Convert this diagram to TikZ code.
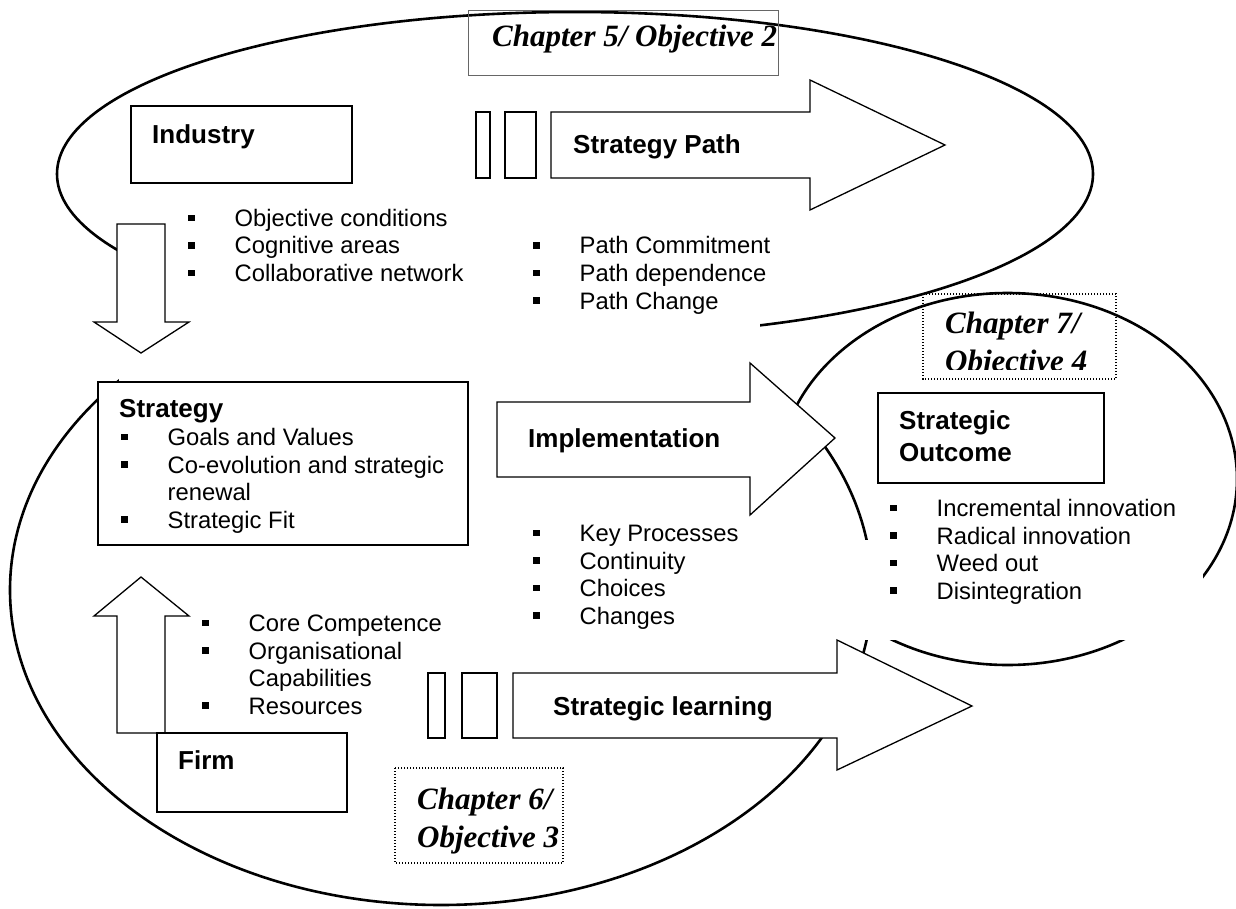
\documentclass[tikz,border=0pt]{standalone}
\usepackage{fontspec}
\setmainfont{Liberation Sans}
\newfontfamily\chapfont{Liberation Serif}
\newcommand\bsq{\makebox[46.5pt][l]{\rule[5.25pt]{6.5pt}{6.5pt}}}
\tikzset{line cap=round,line join=round}
\tikzset{
    oval/.style={line width=2.6pt},
    mask/.style={fill=white},
    box/.style={draw,fill=white,line width=1.3pt},
    blockarrow/.style={draw,fill=white,line width=1.3pt,line join=miter},
    chapline/.style={draw=black!60,line width=0.9pt},
    chapdots/.style={draw,line width=1.1pt,line cap=butt,dash pattern=on 1.1pt off 1.9pt},
    head/.style={anchor=base west,inner sep=0pt,font=\fontsize{26}{30}\selectfont\bfseries},
    item/.style={anchor=base west,inner sep=0pt,font=\fontsize{23.8}{27.5}\selectfont},
    chap/.style={anchor=base west,inner sep=0pt,font=\chapfont\fontsize{31}{36}\selectfont\bfseries\itshape},
}

\begin{document}
\begin{tikzpicture}[x=1pt,y=-1pt]
    \useasboundingbox (0,0) rectangle (1236,909);
    % the three ovals
    \draw[oval] (575,174) ellipse [x radius=518pt, y radius=162pt];
    \draw[oval] (441,590) ellipse [x radius=431pt, y radius=315pt];
    \draw[oval] (1007.5,479) ellipse [x radius=229.5pt, y radius=186pt];
    % white backgrounds of the text boxes
    \path[mask] (119,192) rectangle (478,381);
    \path[mask] (478,215) rectangle (760,400);
    \path[mask] (520,485) rectangle (800,640);
    \path[mask] (800,540) rectangle (1203,640);
    % chapter labels
    \draw[chapline] (468,10) rectangle (778,75);
    \node[chap] (ch5) at (492,47) {Chapter 5/ Objective 2};
    \draw[chapdots] (395,768) rectangle (563,863);
    \node[chap] (ch6-1) at (417,809) {Chapter 6/};
    \node[chap] (ch6-2) at (417,847) {Objective 3};
    \draw[chapdots] (923,294) rectangle (1116,379);
    \node[chap] (ch7-1) at (945,333) {Chapter 7/};
    \begin{scope}
        \clip (923,294) rectangle (1116,369);
        \node[chap] (ch7-2) at (945,371) {Objective 4};
    \end{scope}
    % block arrows
    \draw[blockarrow] (117,224) -- (165,224) -- (165,322) -- (189,322) -- (141,353) -- (94,322) -- (117,322) -- cycle;
    \draw[blockarrow] (117,733) -- (117,616) -- (94,616) -- (141,577) -- (189,616) -- (165,616) -- (165,733) -- cycle;
    \draw[blockarrow] (497,402) -- (750,402) -- (750,363) -- (835,438) -- (750,515) -- (750,477) -- (497,477) -- cycle;
    \draw[blockarrow] (476,112) rectangle (490,178);
    \draw[blockarrow] (505,112) rectangle (536,178);
    \draw[blockarrow] (551,112) -- (810,112) -- (810,80) -- (945,145) -- (810,210) -- (810,178) -- (551,178) -- cycle;
    \draw[blockarrow] (428,673) rectangle (445,738);
    \draw[blockarrow] (462,673) rectangle (497,738);
    \draw[blockarrow] (513,673) -- (837,673) -- (837,640) -- (972,706) -- (837,770) -- (837,738) -- (513,738) -- cycle;
    \node[head] (path) at (573,154) {Strategy Path};
    \node[head] (impl) at (528,447) {Implementation};
    \node[head] (learning) at (553,715) {Strategic learning};
    % boxes
    \draw[box] (131,106) rectangle (352,183);
    \node[head] (industry) at (152,144) {Industry};
    \draw[box] (98,382) rectangle (468,545);
    \node[head] (strategy) at (119,417) {Strategy};
    \draw[box] (157,733) rectangle (347,812);
    \node[head] (firm) at (178,769) {Firm};
    \draw[box] (878,393) rectangle (1104,483);
    \node[head] (outcome-1) at (899,429) {Strategic};
    \node[head] (outcome-2) at (899,461) {Outcome};
    % bullet lists
    \foreach \txt [count=\i] in {Objective conditions,Cognitive areas,Collaborative network}
        \node[item] (ind-\i) at (188,{199+27.5*\i}) {\bsq\txt};
    \foreach \txt [count=\i] in {Path Commitment,Path dependence,Path Change}
        \node[item] (path-\i) at (533,{226.5+27.5*\i}) {\bsq\txt};
    \foreach \b/\txt [count=\i] in {1/Goals and Values,1/Co-evolution and strategic,0/renewal,1/Strategic Fit}
        \node[item] (str-\i) at (121,{418+27.5*\i}) {\ifnum\b=1 \bsq\else\hspace*{46.5pt}\fi\txt};
    \foreach \txt [count=\i] in {Key Processes,Continuity,Choices,Changes}
        \node[item] (impl-\i) at (533,{514+27.5*\i}) {\bsq\txt};
    \foreach \b/\txt [count=\i] in {1/Core Competence,1/Organisational,0/Capabilities,1/Resources}
        \node[item] (firm-\i) at (202,{604+27.5*\i}) {\ifnum\b=1 \bsq\else\hspace*{46.5pt}\fi\txt};
    \foreach \txt [count=\i] in {Incremental innovation,Radical innovation,Weed out,Disintegration}
        \node[item] (out-\i) at (890,{489+27.5*\i}) {\bsq\txt};
\end{tikzpicture}
\end{document}
